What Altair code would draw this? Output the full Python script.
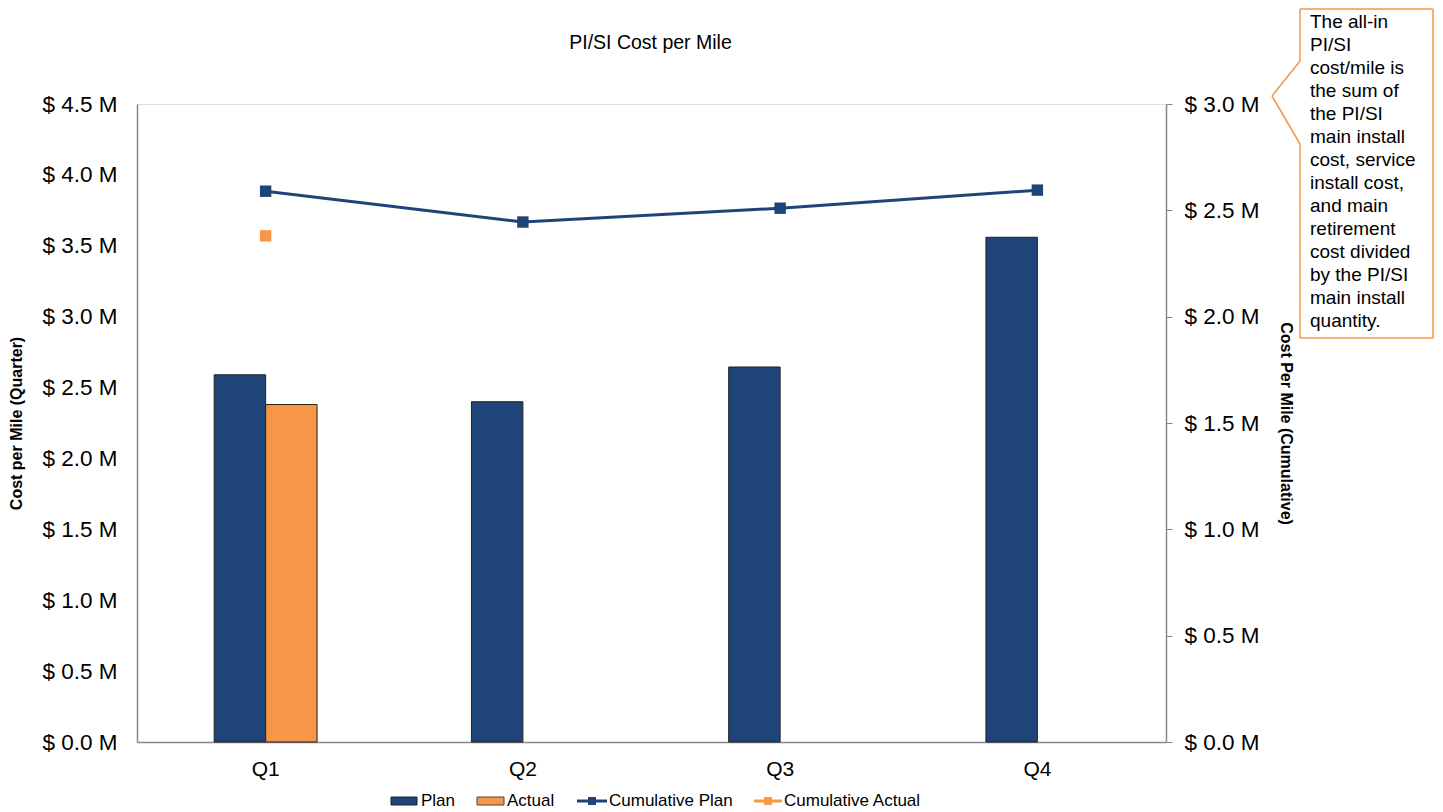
import altair as alt
import pandas as pd

# ---- data (values in $ millions) ----
quarters = ["Q1", "Q2", "Q3", "Q4"]
plan = [2.59, 2.40, 2.645, 3.56]
actual = [2.38, None, None, None]
cum_plan = [2.59, 2.445, 2.51, 2.595]
cum_actual = [2.38, None, None, None]

chart_title = "PI/SI Cost per Mile"
series_names = ["Plan", "Actual", "Cumulative Plan", "Cumulative Actual"]
callout_lines = ["The all-in", "PI/SI", "cost/mile is", "the sum of", "the PI/SI",
                 "main install", "cost, service", "install cost,", "and main",
                 "retirement", "cost divided", "by the PI/SI", "main install",
                 "quantity."]

PLAN_C = "#1F4478"
ACT_C = "#F79646"
FONT = "Liberation Sans"

bar_rows = []
for q, p, a in zip(quarters, plan, actual):
    bar_rows.append({"quarter": q, "series": "Plan", "value": p})
    if a is not None:
        bar_rows.append({"quarter": q, "series": "Actual", "value": a})
bar_df = pd.DataFrame(bar_rows)
cum_df = pd.DataFrame({"quarter": quarters, "value": cum_plan})
cum_act_df = pd.DataFrame([{"quarter": q, "value": v} for q, v in zip(quarters, cum_actual) if v is not None])

W, H = 1029, 638

xenc = alt.X("quarter:N", sort=quarters,
             scale=alt.Scale(paddingInner=0.6, paddingOuter=0.3),
             axis=alt.Axis(title=None, labelAngle=0, labelFontSize=21, labelFont=FONT,
                           labelColor="#000", ticks=False, labelPadding=16,
                           domainColor="#888", domainWidth=1.5))

money = "'$ ' + format(datum.value, '.1f') + ' M'"

bars = alt.Chart(bar_df).mark_bar(stroke="#222", strokeWidth=1).encode(
    x=xenc,
    xOffset=alt.XOffset("series:N", scale=alt.Scale(domain=["Plan", "Actual"])),
    y=alt.Y("value:Q", scale=alt.Scale(domain=[0, 4.5], nice=False),
            axis=alt.Axis(orient="left", values=[0, 0.5, 1, 1.5, 2, 2.5, 3, 3.5, 4, 4.5],
                          labelExpr=money, grid=False, ticks=False, labelFontSize=22.5,
                          labelFont=FONT, labelColor="#000", labelPadding=20,
                          domainColor="#888", domainWidth=1.5,
                          title="Cost per Mile (Quarter)", titleFont=FONT, titleFontSize=16,
                          titleFontWeight="bold", titleColor="#000", titlePadding=17)),
    color=alt.Color("series:N", scale=alt.Scale(domain=["Plan", "Actual"], range=[PLAN_C, ACT_C]),
                    legend=None),
)

yright = alt.Y("value:Q", scale=alt.Scale(domain=[0, 3], nice=False),
               axis=alt.Axis(orient="right", values=[0, 0.5, 1, 1.5, 2, 2.5, 3],
                             labelExpr=money, grid=False, ticks=True, tickSize=6,
                             tickColor="#888", labelFontSize=22.5, labelFont=FONT,
                             labelColor="#000", labelPadding=12, domainColor="#888",
                             domainWidth=1.5, title="Cost Per Mile (Cumulative)",
                             titleFont=FONT, titleFontSize=16, titleFontWeight="bold",
                             titleColor="#000", titlePadding=18))

cum_line = alt.Chart(cum_df).mark_line(color=PLAN_C, strokeWidth=3).encode(
    x=alt.X("quarter:N", sort=quarters), y=yright)
cum_pts = alt.Chart(cum_df).mark_square(color=PLAN_C, size=130, opacity=1).encode(
    x=alt.X("quarter:N", sort=quarters), y="value:Q")
cum_act_pts = alt.Chart(cum_act_df).mark_square(color=ACT_C, size=130, opacity=1).encode(
    x=alt.X("quarter:N", sort=quarters), y="value:Q")

one = pd.DataFrame({"k": [0]})


def seg(x1, y1, x2, y2, color=ACT_C, w=1.5):
    return alt.Chart(one).mark_rule(color=color, strokeWidth=w).encode(
        x=alt.value(x1), y=alt.value(y1), x2=alt.value(x2), y2=alt.value(y2))


title_mark = alt.Chart(one).mark_text(align="center", baseline="middle", fontSize=19.5,
                                      font=FONT, color="#000").encode(
    x=alt.value(W / 2 - 1), y=alt.value(-61), text=alt.value(chart_title))

# callout box (pixel layout, relative to plot area)
bl, br, bt, bb = 1163, 1296, -95, 234
px, py = 1135, -8
callout = [
    seg(bl, bt, br, bt), seg(br, bt, br, bb), seg(bl, bb, br, bb),
    seg(bl, bt, bl, -43), seg(bl, -43, px, py), seg(px, py, bl, 40), seg(bl, 40, bl, bb),
    alt.Chart(one).mark_text(align="left", baseline="top", fontSize=19, lineHeight=23,
                             font=FONT, color="#000").encode(
        x=alt.value(1173), y=alt.value(-91), text=alt.value(callout_lines)),
]

# legend (pixel layout)
LY = 697
leg = []
leg.append(alt.Chart(one).mark_rect(fill=PLAN_C, stroke="#222", strokeWidth=1).encode(
    x=alt.value(254), x2=alt.value(280), y=alt.value(LY - 4), y2=alt.value(LY + 4)))
leg.append(alt.Chart(one).mark_rect(fill=ACT_C, stroke="#444", strokeWidth=1).encode(
    x=alt.value(340), x2=alt.value(367), y=alt.value(LY - 4), y2=alt.value(LY + 4)))
leg.append(seg(440, LY, 470, LY, PLAN_C, 3))
leg.append(alt.Chart(one).mark_square(color=PLAN_C, size=64, opacity=1).encode(
    x=alt.value(455), y=alt.value(LY)))
leg.append(seg(617, LY, 645, LY, ACT_C, 3))
leg.append(alt.Chart(one).mark_square(color=ACT_C, size=64, opacity=1).encode(
    x=alt.value(631), y=alt.value(LY)))
for name, lx in zip(series_names, [284, 370, 472, 647]):
    leg.append(alt.Chart(one).mark_text(align="left", baseline="middle", fontSize=17,
                                        font=FONT, color="#000").encode(
        x=alt.value(lx), y=alt.value(LY), text=alt.value(name)))

right = alt.layer(cum_line, cum_pts, cum_act_pts, title_mark, *callout, *leg)

chart = alt.layer(bars, right).resolve_scale(y="independent").properties(
    width=W, height=H, padding=0,
).configure_view(stroke=None).configure(background="white")

chart.save("out.html", embed_options={"renderer": "svg", "actions": False})
